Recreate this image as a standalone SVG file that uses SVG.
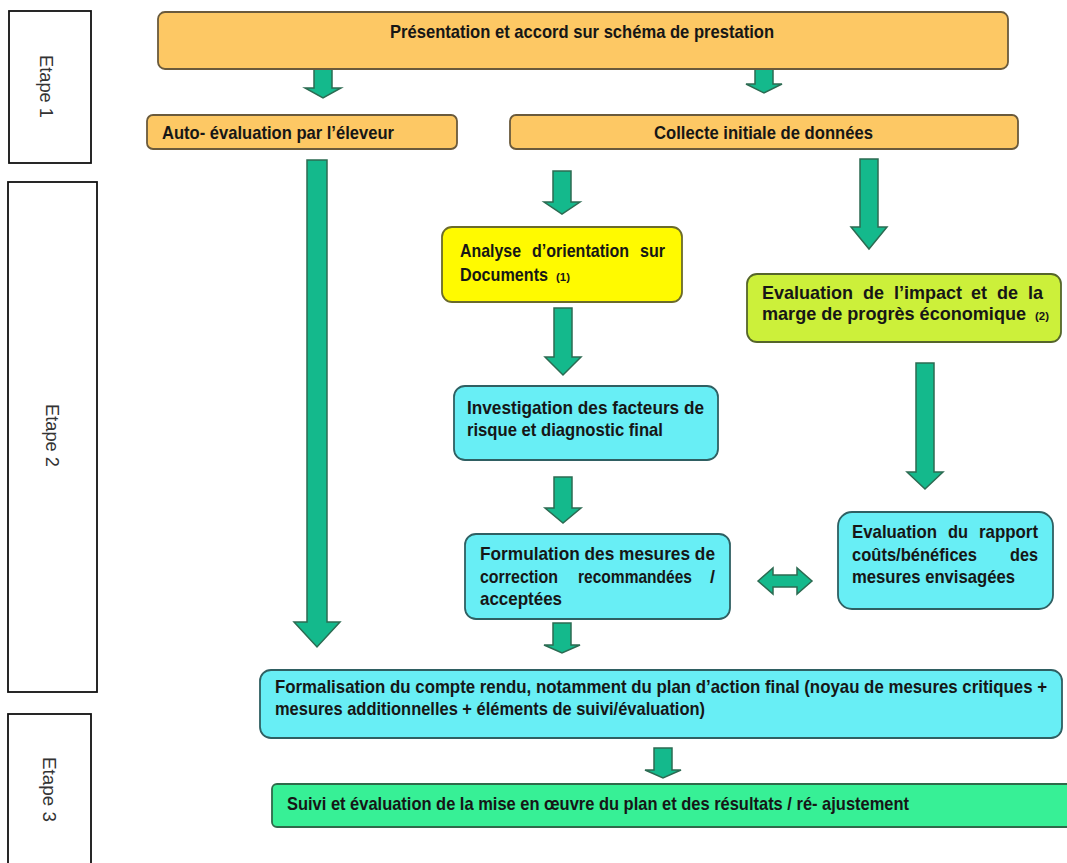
<svg xmlns="http://www.w3.org/2000/svg" width="1067" height="863" viewBox="0 0 1067 863">
<style>
.t{font-family:"Liberation Sans",Arial,sans-serif;font-weight:bold;font-size:19px;fill:#161616}
.s{font-size:10px}
.et{font-family:"Liberation Sans",Arial,sans-serif;font-size:18px;fill:#333}
.stage{fill:#fff;stroke:#111;stroke-width:1.8}
.arr{fill:#14B98C;stroke:#2C6B52;stroke-width:1.5;stroke-linejoin:miter}
.or{fill:#FDC864;stroke:#6A5A3C;stroke-width:1.8}
.ye{fill:#FFFA00;stroke:#6B6B2A;stroke-width:1.8}
.yg{fill:#CCF03A;stroke:#55652A;stroke-width:1.8}
.cy{fill:#68EEF5;stroke:#2F5F62;stroke-width:1.8}
.gr{fill:#37F096;stroke:#2E6A4A;stroke-width:1.8}
</style>
<rect width="1067" height="863" fill="#fff"/>

<g id="etape1"><rect class="stage" x="9" y="11" width="82" height="152"/><text class="et" transform="translate(40,55) rotate(90)" textLength="63" lengthAdjust="spacingAndGlyphs">Etape 1</text></g>
<g id="etape2"><rect class="stage" x="8" y="182" width="89" height="510"/><text class="et" transform="translate(46,404) rotate(90)" textLength="63" lengthAdjust="spacingAndGlyphs">Etape 2</text></g>
<g id="etape3"><rect class="stage" x="8" y="714" width="83" height="160"/><text class="et" transform="translate(43,757) rotate(90)" textLength="65" lengthAdjust="spacingAndGlyphs">Etape 3</text></g>

<g id="connectors">
<path class="arr" d="M314,69 H332 V88 H341 L323,98 L305,88 H314 Z"/>
<path class="arr" d="M755,69 H773 V84 H782 L764,93 L746,84 H755 Z"/>
<path class="arr" d="M307,160 H327 V622 H340 L317,647 L294,622 H307 Z"/>
<path class="arr" d="M553,171 H571 V202 H580 L562,214 L544,202 H553 Z"/>
<path class="arr" d="M860,159 H878 V227 H887 L869,249 L851,227 H860 Z"/>
<path class="arr" d="M554,308 H572 V357 H581 L563,375 L545,357 H554 Z"/>
<path class="arr" d="M916,363 H934 V472 H943 L925,489 L907,472 H916 Z"/>
<path class="arr" d="M554,477 H572 V508 H581 L563,523 L545,508 H554 Z"/>
<path class="arr" d="M553,623 H571 V645 H580 L562,653 L544,645 H553 Z"/>
<path class="arr" d="M654,748 H672 V770 H681 L663,778 L645,770 H654 Z"/>
<path class="arr" d="M758,581 L773,568 V575 H797 V568 L812,581 L797,594 V587 H773 V594 Z"/>
</g>

<g id="presentation"><rect class="or" x="158" y="12" width="850" height="57" rx="7"/><text class="t" x="390" y="38" textLength="384" lengthAdjust="spacingAndGlyphs">Présentation et accord sur schéma de prestation</text></g>
<g id="auto-evaluation"><rect class="or" x="147" y="115" width="310" height="34" rx="6"/><text class="t" x="162" y="139" textLength="232" lengthAdjust="spacingAndGlyphs">Auto- évaluation par l’éleveur</text></g>
<g id="collecte"><rect class="or" x="510" y="115" width="508" height="34" rx="6"/><text class="t" x="654" y="139" textLength="219" lengthAdjust="spacingAndGlyphs">Collecte initiale de données</text></g>

<g id="analyse"><rect class="ye" x="442" y="227" width="240" height="75" rx="10"/>
<text class="t" y="257"><tspan x="460" textLength="61" lengthAdjust="spacingAndGlyphs">Analyse</tspan><tspan x="532" textLength="97" lengthAdjust="spacingAndGlyphs">d’orientation</tspan><tspan x="640" textLength="25" lengthAdjust="spacingAndGlyphs">sur</tspan></text>
<text class="t" y="281"><tspan x="460" textLength="88" lengthAdjust="spacingAndGlyphs">Documents</tspan><tspan class="s" x="556" textLength="14" lengthAdjust="spacingAndGlyphs">(1)</tspan></text></g>

<g id="impact"><rect class="yg" x="747" y="274" width="314" height="68" rx="10"/>
<text class="t" y="299"><tspan x="762" textLength="91" lengthAdjust="spacingAndGlyphs">Evaluation</tspan><tspan x="863" textLength="21" lengthAdjust="spacingAndGlyphs">de</tspan><tspan x="894" textLength="68" lengthAdjust="spacingAndGlyphs">l’impact</tspan><tspan x="971" textLength="16" lengthAdjust="spacingAndGlyphs">et</tspan><tspan x="997" textLength="21" lengthAdjust="spacingAndGlyphs">de</tspan><tspan x="1028" textLength="15" lengthAdjust="spacingAndGlyphs">la</tspan></text>
<text class="t" y="320"><tspan x="762" textLength="264" lengthAdjust="spacingAndGlyphs">marge de progrès économique</tspan><tspan class="s" x="1035" textLength="14" lengthAdjust="spacingAndGlyphs">(2)</tspan></text></g>

<g id="investigation"><rect class="cy" x="454" y="386" width="264" height="74" rx="11"/>
<text class="t" x="467" y="414" textLength="237" lengthAdjust="spacingAndGlyphs">Investigation des facteurs de</text>
<text class="t" x="467" y="436" textLength="196" lengthAdjust="spacingAndGlyphs">risque et diagnostic final</text></g>

<g id="formulation"><rect class="cy" x="465" y="534" width="265" height="85" rx="11"/>
<text class="t" x="480" y="560" textLength="235" lengthAdjust="spacingAndGlyphs">Formulation des mesures de</text>
<text class="t" y="583"><tspan x="480" textLength="78" lengthAdjust="spacingAndGlyphs">correction</tspan><tspan x="578" textLength="114" lengthAdjust="spacingAndGlyphs">recommandées</tspan><tspan x="710" textLength="5" lengthAdjust="spacingAndGlyphs">/</tspan></text>
<text class="t" x="480" y="605" textLength="82" lengthAdjust="spacingAndGlyphs">acceptées</text></g>

<g id="rapport"><rect class="cy" x="838" y="512" width="215" height="97" rx="14"/>
<text class="t" y="538"><tspan x="852" textLength="85" lengthAdjust="spacingAndGlyphs">Evaluation</tspan><tspan x="948" textLength="20" lengthAdjust="spacingAndGlyphs">du</tspan><tspan x="979" textLength="59" lengthAdjust="spacingAndGlyphs">rapport</tspan></text>
<text class="t" y="561"><tspan x="852" textLength="125" lengthAdjust="spacingAndGlyphs">coûts/bénéfices</tspan><tspan x="1010" textLength="28" lengthAdjust="spacingAndGlyphs">des</tspan></text>
<text class="t" x="852" y="583" textLength="163" lengthAdjust="spacingAndGlyphs">mesures envisagées</text></g>

<g id="formalisation"><rect class="cy" x="260" y="670" width="802" height="68" rx="11"/>
<text class="t" x="275" y="693" textLength="772" lengthAdjust="spacingAndGlyphs">Formalisation du compte rendu, notamment du plan d’action final (noyau de mesures critiques +</text>
<text class="t" x="275" y="715" textLength="430" lengthAdjust="spacingAndGlyphs">mesures additionnelles + éléments de suivi/évaluation)</text></g>

<g id="suivi"><rect class="gr" x="272" y="784" width="812" height="43" rx="5"/>
<text class="t" x="287" y="810" textLength="622" lengthAdjust="spacingAndGlyphs">Suivi et évaluation de la mise en œuvre du plan et des résultats / ré- ajustement</text></g>
</svg>
